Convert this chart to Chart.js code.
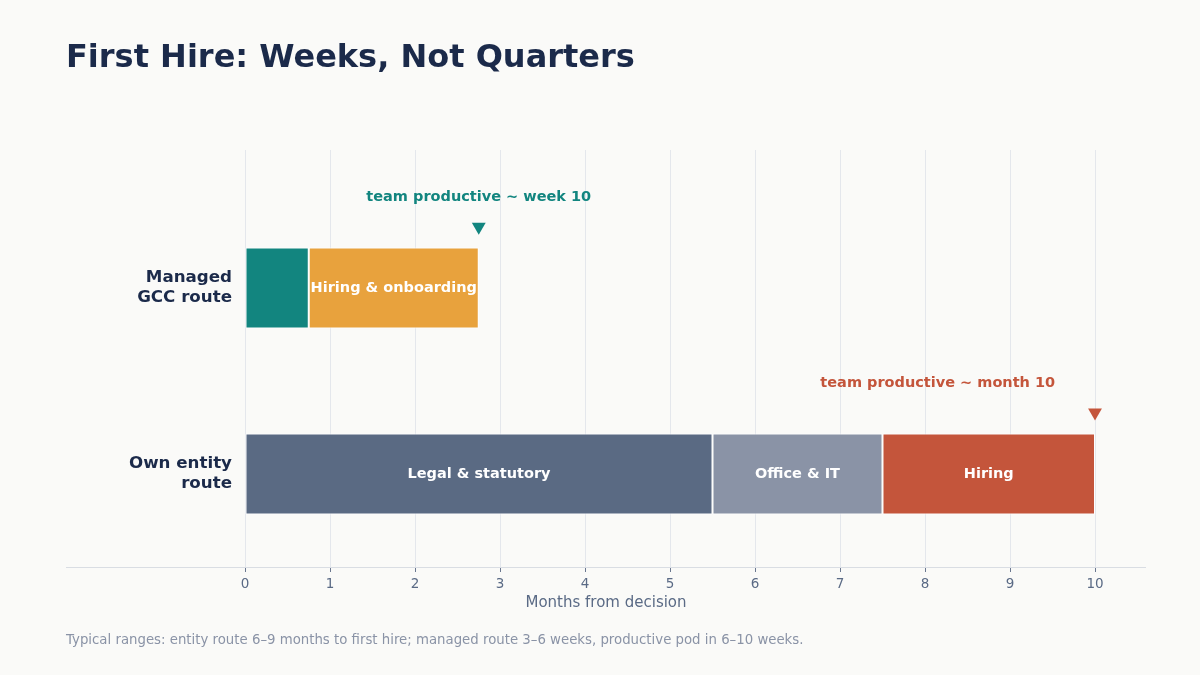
<!DOCTYPE html>
<html>
<head>
<meta charset="utf-8">
<script src="https://cdn.jsdelivr.net/npm/chart.js@4"></script>
<style>
  html, body { margin: 0; padding: 0; background: #fafaf8; }
  #wrap { width: 1200px; height: 675px; }
</style>
</head>
<body>
<div id="wrap"><canvas id="hire-chart" width="1200" height="675"></canvas></div>
<script>
var routes = [["Managed", "GCC route"], ["Own entity", "route"]];
var phaseNames = ["", "Hiring & onboarding", "Legal & statutory", "Office & IT", "Hiring"];
var phaseRoute = [0, 0, 1, 1, 1];
var phaseStart = [0, 0.75, 0, 5.5, 7.5];
var phaseEnd = [0.75, 2.75, 5.5, 7.5, 10];
var phaseColors = ["#12857f", "#e8a23d", "#5a6a83", "#8a93a6", "#c4553b"];
var xTicks = [0, 1, 2, 3, 4, 5, 6, 7, 8, 9, 10];
var xTitle = "Months from decision";
var markerX = [2.75, 10];
var markerY = [-0.33, 0.67];
var noteText = ["team productive ~ week 10", "team productive ~ month 10"];
var noteX = [2.75, 8.15];
var noteY = [-0.49, 0.51];
var noteColors = ["#12857f", "#c4553b"];
var caption = "Typical ranges: entity route 6\u20139 months to first hire; managed route 3\u20136 weeks, productive pod in 6\u201310 weeks.";

(function () {
    var canvas = document.getElementById("hire-chart");
    var ctx = canvas.getContext("2d");
    var FONT = "'DejaVu Sans', sans-serif";

    var datasets = phaseNames.map(function (name, i) {
        return {
            label: name || "Setup",
            data: [{ x: [phaseStart[i], phaseEnd[i]], y: phaseRoute[i] }],
            backgroundColor: phaseColors[i],
            borderColor: "#ffffff",
            borderWidth: 1,
            borderSkipped: false,
            grouped: false,
            barPercentage: 0.435,
            categoryPercentage: 1,
            indexAxis: "y",
        };
    });

    datasets.push({
        type: "scatter",
        label: "markers",
        data: markerX.map(function (x, i) { return { x: x, y: markerY[i] }; }),
        pointStyle: "triangle",
        rotation: 180,
        radius: 8,
        borderWidth: 0,
        backgroundColor: noteColors,
        pointBackgroundColor: noteColors,
    });

    var extras = {
        id: "extras",
        beforeDraw: function (chart) {
            var c = chart.ctx;
            c.save();
            c.fillStyle = "#fafaf8";
            c.fillRect(0, 0, chart.width, chart.height);
            c.restore();
        },
        beforeDatasetsDraw: function (chart) {
            var c = chart.ctx, a = chart.chartArea;
            c.save();
            c.strokeStyle = "#d9dde3";
            c.lineWidth = 1;
            c.beginPath();
            c.moveTo(66, Math.round(a.bottom) + 0.5);
            c.lineTo(a.right, Math.round(a.bottom) + 0.5);
            c.stroke();
            c.restore();
        },
        afterDatasetsDraw: function (chart) {
            var c = chart.ctx;
            var xs = chart.scales.x, ys = chart.scales.y;
            c.save();
            c.textAlign = "center";
            c.textBaseline = "middle";
            c.font = "bold 14.5px " + FONT;
            c.fillStyle = "#ffffff";
            phaseNames.forEach(function (name, i) {
                if (!name) return;
                var bar = chart.getDatasetMeta(i).data[0];
                c.fillText(name, (bar.x + bar.base) / 2, bar.y);
            });
            noteText.forEach(function (t, i) {
                c.fillStyle = noteColors[i];
                c.fillText(t, xs.getPixelForValue(noteX[i]), ys.getPixelForValue(noteY[i]));
            });
            c.restore();
        },
        afterDraw: function (chart) {
            var c = chart.ctx, a = chart.chartArea;
            c.save();
            c.textBaseline = "middle";
            // axis title spans the whole plot width, y labels included
            c.font = "15px " + FONT;
            c.fillStyle = "#5a6a85";
            c.textAlign = "center";
            c.fillText(xTitle, (66 + a.right) / 2, 603);
            c.font = "13.3px " + FONT;
            c.fillStyle = "#8a93a6";
            c.textAlign = "left";
            c.fillText(caption, 66, 641);
            c.restore();
        },
    };

    new Chart(ctx, {
        type: "bar",
        data: { datasets: datasets },
        plugins: [extras],
        options: {
            responsive: false,
            animation: false,
            events: [],
            indexAxis: "y",
            layout: { padding: { left: 66, right: 54, top: 0, bottom: 58 } },
            scales: {
                x: {
                    type: "linear",
                    min: 0,
                    max: 10.6,
                    afterBuildTicks: function (axis) {
                        axis.ticks = xTicks.map(function (v) { return { value: v }; });
                    },
                    afterFit: function (axis) { axis.height = 50; },
                    grid: {
                        color: "#e4e7ec",
                        lineWidth: 1,
                        tickLength: 5,
                        tickColor: "#6b7890",
                    },
                    border: { display: false },
                    ticks: {
                        color: "#5a6a85",
                        padding: 4,
                        font: { family: FONT, size: 13.5 },
                        maxRotation: 0,
                    },
                },
                y: {
                    type: "linear",
                    reverse: true,
                    offset: false,
                    min: -0.742,
                    max: 1.5,
                    afterBuildTicks: function (axis) {
                        axis.ticks = routes.map(function (r, i) { return { value: i }; });
                    },
                    afterFit: function (axis) { axis.width = 179; },
                    grid: { display: false, drawTicks: false, offset: false },
                    border: { display: false },
                    ticks: {
                        color: "#1b2a4a",
                        padding: 13,
                        font: { family: FONT, size: 16.7, weight: "bold", lineHeight: 1.2 },
                        callback: function (v) { return routes[v]; },
                    },
                },
            },
            plugins: {
                legend: { display: false },
                tooltip: { enabled: false },
                title: {
                    display: true,
                    text: "First Hire: Weeks, Not Quarters",
                    align: "start",
                    color: "#1b2a4a",
                    font: { family: FONT, size: 32, weight: "bold", lineHeight: 1.2 },
                    padding: { top: 39, bottom: 72.6 },
                },
            },
        },
    });
})();
</script>
</body>
</html>
